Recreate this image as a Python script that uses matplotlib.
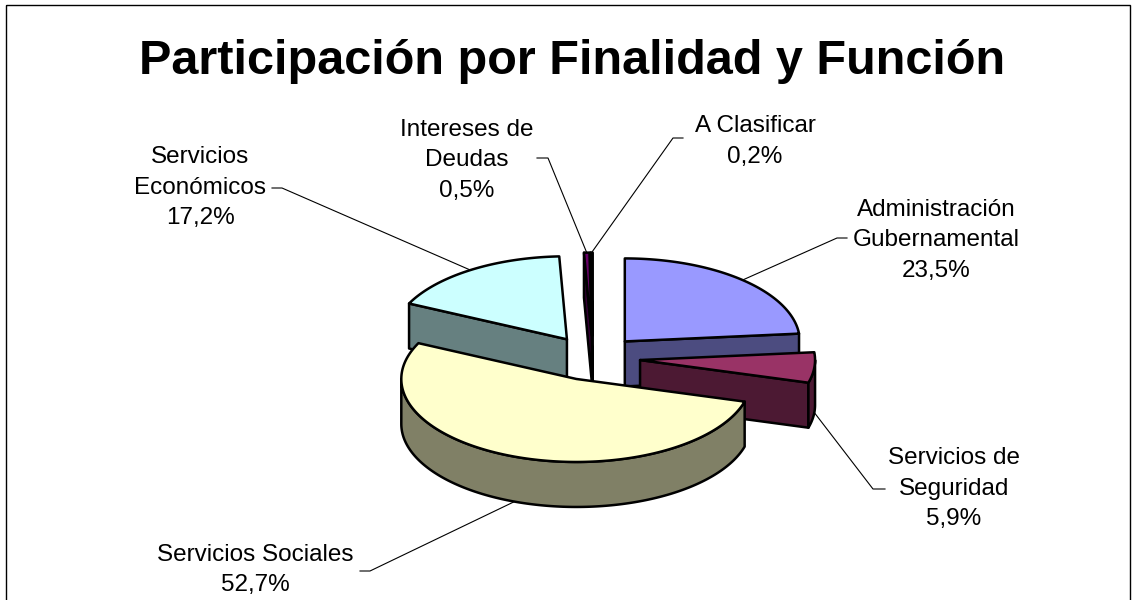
import numpy as np
import matplotlib
matplotlib.use("Agg")
import matplotlib.pyplot as plt
from matplotlib.patches import Polygon, Rectangle

# ---------------- data ----------------
title = "Participación por Finalidad y Función"
categories = ["Administración\nGubernamental", "Servicios de\nSeguridad", "Servicios Sociales",
              "Servicios\nEconómicos", "Intereses de\nDeudas", "A Clasificar"]
values = [23.5, 5.9, 52.7, 17.2, 0.5, 0.2]
pct_labels = ["23,5%", "5,9%", "52,7%", "17,2%", "0,5%", "0,2%"]
top_colors = ["#9999FF", "#993366", "#FFFFCC", "#CCFFFF", "#660066", "#FF8080"]
side_colors = ["#4C4C80", "#4C1933", "#808066", "#668080", "#330033", "#804040"]

# ---------------- layout ----------------
W, H = 1134, 600
CX, CY = 593, 358          # pie centre (pixels)
RX, RY = 175, 83           # ellipse radii
DEPTH = 45                 # pie thickness
EXPLODE = 0.27             # explosion as fraction of radius
# label layout: centre x, first line y, leader-line start, leader-line knee
label_layout = [
    (936, 210, (847, 238), (837, 238)),
    (954, 458, (885, 489), (873, 489)),
    (255, 555, (360, 571), (370, 571)),
    (200, 157, (272, 188), (282, 188)),
    (467, 130, (537, 158), (548, 158)),
    (755, 126, (683, 138), (673, 138)),
]
LINE_H = 30.5

plt.rcParams['font.family'] = ['Liberation Sans', 'DejaVu Sans']

fig = plt.figure(figsize=(W / 100, H / 100), dpi=100)
ax = fig.add_axes([0, 0, 1, 1])
ax.set_xlim(0, W)
ax.set_ylim(H, 0)
ax.axis('off')

# frame
ax.add_patch(Rectangle((6, 5), 1124, 620, fill=False, lw=1.0, ec='black', zorder=0))

total = sum(values)
angles = np.cumsum([0] + [v / total * 360 for v in values])


def pt(c, t, dz=0.0):
    r = np.radians(t)
    return (c[0] + RX * np.sin(r), c[1] - RY * np.cos(r) + dz)


def arc(c, a1, a2, dz=0.0, n=None):
    if n is None:
        n = max(2, int(abs(a2 - a1) / 1.0) + 2)
    ts = np.linspace(a1, a2, n)
    return [pt(c, t, dz) for t in ts]


slices = []
for i, v in enumerate(values):
    a1, a2 = angles[i], angles[i + 1]
    m = np.radians((a1 + a2) / 2)
    c = (CX + EXPLODE * RX * np.sin(m), CY - EXPLODE * RY * np.cos(m))
    slices.append((i, a1, a2, c))

EDGE = dict(ec='black', lw=1.8, joinstyle='round')

order = sorted(slices, key=lambda s: s[3][1])
z = 1
for i, a1, a2, c in order:
    # radial walls
    for a, n_ang in ((a1, a1 - 90), (a2, a2 + 90)):
        if np.cos(np.radians(n_ang)) < -1e-6:
            p = pt(c, a)
            poly = [c, p, (p[0], p[1] + DEPTH), (c[0], c[1] + DEPTH)]
            ax.add_patch(Polygon(poly, closed=True, fc=side_colors[i], zorder=z, **EDGE))
            z += 1
    # outer wall (front half: 90..270)
    b1, b2 = max(a1, 90), min(a2, 270)
    if b2 > b1:
        top = arc(c, b1, b2)
        bot = arc(c, b1, b2, DEPTH)[::-1]
        ax.add_patch(Polygon(top + bot, closed=True, fc=side_colors[i], zorder=z, **EDGE))
        z += 1
    # top face
    poly = [c] + arc(c, a1, a2)
    ax.add_patch(Polygon(poly, closed=True, fc=top_colors[i], zorder=z, **EDGE))
    z += 1

# labels and leader lines
for i, a1, a2, c in slices:
    lx, ly, p0, p1 = label_layout[i]
    lines = categories[i].split("\n") + [pct_labels[i]]
    for k, s in enumerate(lines):
        ax.text(lx, ly + k * LINE_H, s, ha='center', va='center', fontsize=17.5,
                color='black', zorder=100)
    m = (a1 + a2) / 2
    front = np.cos(np.radians(m)) < 0
    anchor = pt(c, m, DEPTH if front else 0)
    xs = [p0[0], p1[0], anchor[0]]
    ys = [p0[1], p1[1], anchor[1]]
    ax.plot(xs, ys, color='black', lw=0.8, zorder=99)

ax.text(572, 62, title, ha='center', va='center', fontsize=35, fontweight='bold',
        color='black', zorder=100)

fig.savefig("out.png", dpi=100)
